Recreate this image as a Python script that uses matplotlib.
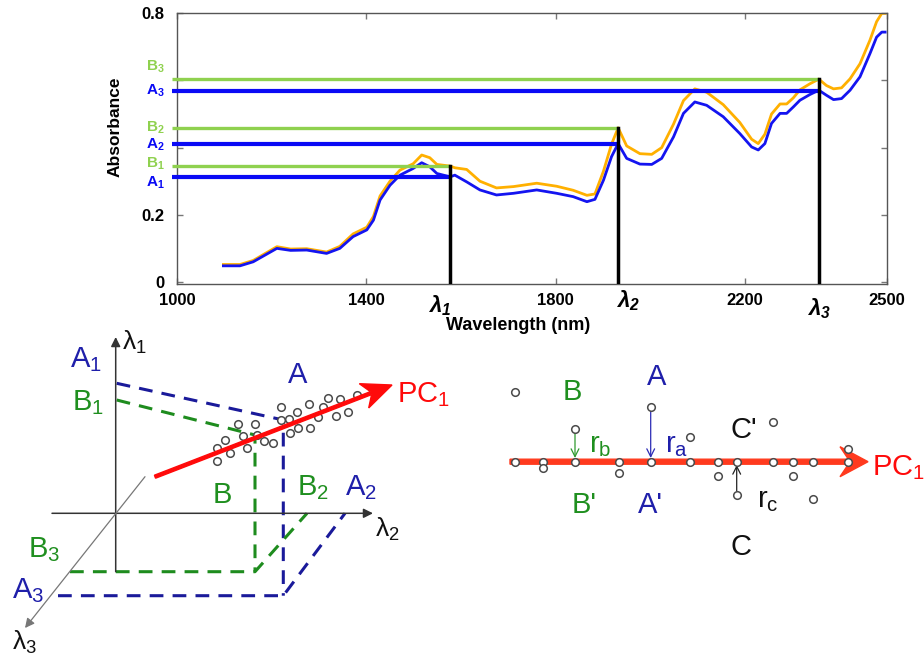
"""
NIR spectra with projections onto three wavelengths, and the PC1 sketch
(3-D projection and residual distances to the first principal component).
"""

import matplotlib.pyplot as plt
from matplotlib.patches import FancyArrow

plt.rcParams["font.family"] = ["Liberation Sans", "DejaVu Sans"]
plt.rcParams["mathtext.fontset"] = "custom"
plt.rcParams["mathtext.rm"] = "Liberation Sans"
plt.rcParams["mathtext.it"] = "Liberation Sans:italic"
plt.rcParams["mathtext.bf"] = "Liberation Sans:bold"
plt.rcParams["mathtext.bfit"] = "Liberation Sans:bold:italic"

# ---------------------------------------------------------------------------
# Data: spectra
# ---------------------------------------------------------------------------
WAVELENGTH = [1098, 1133, 1161, 1211, 1240, 1274, 1316, 1344, 1372, 1401,
              1415, 1429, 1450, 1471, 1499, 1517, 1534, 1549, 1577, 1587,
              1612, 1640, 1675, 1711, 1760, 1802, 1837, 1866, 1883, 1901,
              1918, 1932, 1950, 1978, 2003, 2024, 2049, 2070, 2094, 2119,
              2154, 2189, 2214, 2228, 2242, 2256, 2274, 2288, 2302, 2316,
              2337, 2356, 2372, 2387, 2404, 2422, 2443, 2464, 2478, 2489,
              2496]
ABS_A = [0.048, 0.048, 0.060, 0.100, 0.094, 0.095, 0.085, 0.100, 0.135, 0.155,
         0.184, 0.244, 0.288, 0.318, 0.338, 0.355, 0.343, 0.323, 0.313, 0.318,
         0.298, 0.274, 0.259, 0.264, 0.274, 0.264, 0.254, 0.239, 0.246, 0.303,
         0.373, 0.412, 0.368, 0.351, 0.350, 0.368, 0.432, 0.502, 0.536, 0.526,
         0.492, 0.442, 0.402, 0.393, 0.412, 0.472, 0.502, 0.502, 0.521, 0.541,
         0.558, 0.571, 0.556, 0.543, 0.546, 0.571, 0.611, 0.680, 0.729, 0.744,
         0.744]
ABS_B = [0.052, 0.052, 0.064, 0.105, 0.098, 0.099, 0.089, 0.106, 0.143, 0.163,
         0.195, 0.256, 0.300, 0.333, 0.352, 0.378, 0.370, 0.350, 0.345, 0.340,
         0.335, 0.300, 0.280, 0.284, 0.294, 0.285, 0.273, 0.258, 0.262, 0.330,
         0.410, 0.459, 0.405, 0.382, 0.380, 0.400, 0.470, 0.540, 0.575, 0.565,
         0.528, 0.475, 0.425, 0.412, 0.440, 0.500, 0.530, 0.530, 0.548, 0.572,
         0.590, 0.604, 0.585, 0.575, 0.578, 0.605, 0.650, 0.720, 0.775, 0.800,
         0.800]

LAMBDAS = [1577, 1932, 2356]
LEVEL_A = [0.313, 0.410, 0.569]
LEVEL_B = [0.346, 0.459, 0.604]
A_LABELS = [r"A$_\mathbf{1}$", r"A$_\mathbf{2}$", r"A$_\mathbf{3}$"]
B_LABELS = [r"B$_\mathbf{1}$", r"B$_\mathbf{2}$", r"B$_\mathbf{3}$"]
LAMBDA_LABELS = [r"λ$_\mathbfit{1}$", r"λ$_\mathbfit{2}$", r"λ$_\mathbfit{3}$"]

X_TICKS = [1000, 1400, 1800, 2200, 2500]
Y_TICKS = [0, 0.2, 0.4, 0.6, 0.8]
Y_TICK_LABELS = ["0", "0.2", "", "", "0.8"]

# ---------------------------------------------------------------------------
# Data: sketches (figure pixel coordinates, y downwards)
# ---------------------------------------------------------------------------
AXIS1_X, AXIS1_Y = [115.7, 115.7], [571.7, 337.0]
AXIS2_X, AXIS2_Y = [52.0, 373.0], [513.3, 513.3]
AXIS3_X, AXIS3_Y = [145.0, 25.0], [476.7, 628.0]

BLUE_PROJ_X, BLUE_PROJ_Y = [116.7, 283.3, 283.3], [383.3, 420.0, 595.7]
BLUE_BASE_X, BLUE_BASE_Y = [58.0, 283.3, 345.0], [595.7, 595.7, 513.3]
GREEN_PROJ_X, GREEN_PROJ_Y = [116.7, 255.0, 255.0], [400.0, 435.0, 571.7]
GREEN_BASE_X, GREEN_BASE_Y = [70.0, 255.0, 307.0], [571.7, 571.7, 513.3]

CLOUD_X = [216.7, 216.7, 225.0, 230.0, 238.3, 242.7, 247.3, 255.0, 256.7,
           264.0, 272.7, 280.7, 280.7, 289.3, 290.0, 297.3, 298.3, 309.3,
           310.0, 318.3, 322.7, 328.3, 336.0, 340.0, 348.3, 356.7]
CLOUD_Y = [448.3, 460.7, 440.0, 452.7, 424.0, 436.0, 448.3, 424.0, 435.0,
           440.7, 443.3, 407.3, 420.0, 419.3, 432.7, 412.3, 428.3, 404.0,
           428.3, 416.7, 407.3, 398.3, 416.0, 399.3, 411.7, 395.0]
PC1_3D_X, PC1_3D_Y = [155.0, 392.0], [476.7, 385.0]

PC1_LINE_X, PC1_LINE_Y = [510.0, 868.0], [461.7, 461.7]
ON_LINE_X = [515.0, 543.3, 575.0, 619.3, 650.7, 690.0, 717.7, 736.7, 773.3,
             793.3, 813.3, 848.3]
OFF_LINE_X = [515.0, 543.3, 575.0, 619.3, 650.7, 690.0, 717.7, 736.7, 773.3,
              793.3, 813.3, 848.3]
OFF_LINE_Y = [392.3, 468.3, 429.3, 472.7, 406.7, 437.3, 476.0, 495.0, 422.3,
              476.0, 499.3, 449.3]
# residual arrows: (x, y_from, y_to, colour)
RESIDUALS = [(575.0, 429.3, 458.0, "#2e9a2e"),
             (650.7, 406.7, 458.0, "#2b2bb5"),
             (736.7, 495.0, 465.0, "#222222")]

BLUE_TXT = "#1f1faa"
GREEN_TXT = "#1f8f1f"
RED = "#ff0a0a"

# (text, x, baseline y, colour)
SKETCH_LABELS = [
    (r"A$_1$", 70, 367, BLUE_TXT), (r"B$_1$", 72, 410, GREEN_TXT),
    ("A", 288, 383, BLUE_TXT), ("B", 213, 503, GREEN_TXT),
    (r"B$_2$", 297, 495, GREEN_TXT), (r"A$_2$", 345, 495, BLUE_TXT),
    (r"B$_3$", 28, 557, GREEN_TXT), (r"A$_3$", 12, 598, BLUE_TXT),
    (r"PC$_1$", 397, 402, RED),
    ("B", 563, 400, GREEN_TXT), ("A", 647, 385, BLUE_TXT),
    ("C'", 730, 438, "#111111"), (r"r$_\mathrm{b}$", 589, 452, GREEN_TXT),
    (r"r$_\mathrm{a}$", 665, 452, BLUE_TXT), ("B'", 572, 513, GREEN_TXT),
    ("A'", 638, 513, BLUE_TXT), (r"r$_\mathrm{c}$", 757, 507, "#111111"),
    ("C", 730, 555, "#111111"), (r"PC$_1$", 872, 475, RED),
]
AXIS_LABELS = [(r"λ$_1$", 122, 350), (r"λ$_2$", 375, 537), (r"λ$_3$", 12, 650)]


def main() -> None:
    fig = plt.figure(figsize=(9.24, 6.59), dpi=100)

    # ------------------------------------------------------------------
    # 1. Spectra panel
    # ------------------------------------------------------------------
    ax = fig.add_axes([177 / 924, 1 - 284.3 / 659, 710 / 924, 271 / 659])
    ymin = -0.007
    ax.set_xlim(1000, 2500)
    ax.set_ylim(ymin, 0.8)

    ax.plot(WAVELENGTH, ABS_B, color="#ffb000", lw=2.0, zorder=2)
    ax.plot(WAVELENGTH, ABS_A, color="#1414f0", lw=2.0, zorder=3)

    for lam, a, b in zip(LAMBDAS, LEVEL_A, LEVEL_B):
        ax.plot([990, lam], [b, b], color="#8fd14f", lw=2.4, clip_on=False,
                solid_capstyle="butt", zorder=4)
        ax.plot([990, lam], [a, a], color="#0a0af5", lw=3.0, clip_on=False,
                solid_capstyle="butt", zorder=4)
        ax.plot([lam, lam], [ymin, b], color="black", lw=2.5, zorder=5)

    # A/B labels next to the y axis
    b_offsets = [-2, -4, 9]
    a_offsets = [-10, -4, -4]
    for i in range(3):
        ax.annotate(B_LABELS[i], xy=(-0.017, LEVEL_B[i]),
                    xycoords=("axes fraction", "data"),
                    xytext=(0, b_offsets[i]), textcoords="offset pixels",
                    ha="right", va="baseline", color="#8fd14f",
                    fontsize=11, fontweight="bold", annotation_clip=False)
        ax.annotate(A_LABELS[i], xy=(-0.017, LEVEL_A[i]),
                    xycoords=("axes fraction", "data"),
                    xytext=(0, a_offsets[i]), textcoords="offset pixels",
                    ha="right", va="baseline", color="#0a0af5",
                    fontsize=11, fontweight="bold", annotation_clip=False)

    # lambda markers under the axis
    lam_dx = [-22, -2, -12]
    lam_dy = [-28, -23, -31]
    for lam, lab, dx, dy in zip(LAMBDAS, LAMBDA_LABELS, lam_dx, lam_dy):
        ax.annotate(lab, xy=(lam, ymin), xytext=(dx, dy),
                    textcoords="offset pixels", ha="left", va="baseline",
                    fontsize=16, fontweight="bold", fontstyle="italic",
                    annotation_clip=False)

    ax.set_xticks(X_TICKS)
    ax.set_yticks(Y_TICKS)
    ax.set_yticklabels(Y_TICK_LABELS)
    ax.tick_params(direction="in", length=4, width=1, color="#777777",
                   top=True, right=True, labelsize=12)
    ax.tick_params(axis="x", pad=6)
    ax.tick_params(axis="y", pad=9)
    for lab in ax.get_xticklabels() + ax.get_yticklabels():
        lab.set_fontweight("bold")
    for sp in ax.spines.values():
        sp.set_color("#555555")
        sp.set_linewidth(1.0)

    # ------------------------------------------------------------------
    # 2. Sketch layer (pixel coordinates)
    # ------------------------------------------------------------------
    sk = fig.add_axes([0, 0, 1, 1])
    sk.set_xlim(0, 924)
    sk.set_ylim(659, 0)
    sk.axis("off")

    sk.text(518, 325, "Wavelength (nm)", ha="center", va="center",
            fontsize=13, fontweight="bold")
    sk.text(115, 127, "Absorbance", ha="center", va="center", rotation=90,
            fontsize=12.5, fontweight="bold")

    # coordinate axes of the 3-D sketch
    for xs, ys, col, lw in [(AXIS1_X, AXIS1_Y, "#333333", 1.1),
                            (AXIS2_X, AXIS2_Y, "#333333", 1.1),
                            (AXIS3_X, AXIS3_Y, "#777777", 0.9)]:
        sk.annotate("", xy=(xs[1], ys[1]), xytext=(xs[0], ys[0]),
                    arrowprops=dict(arrowstyle="-|>", color=col, lw=lw,
                                    mutation_scale=14, shrinkA=0, shrinkB=0))

    dash = dict(lw=2.2, dashes=(4.5, 3.0))
    sk.plot(BLUE_PROJ_X, BLUE_PROJ_Y, color="#1a1a9a", **dash)
    sk.plot(BLUE_BASE_X, BLUE_BASE_Y, color="#1a1a9a", **dash)
    sk.plot(GREEN_PROJ_X, GREEN_PROJ_Y, color="#1e8c1e", **dash)
    sk.plot(GREEN_BASE_X, GREEN_BASE_Y, color="#1e8c1e", **dash)

    sk.scatter(CLOUD_X, CLOUD_Y, s=30, facecolor="white", edgecolor="#4a4a4a",
               linewidth=1.1, zorder=4)
    sk.add_patch(FancyArrow(PC1_3D_X[0], PC1_3D_Y[0],
                            PC1_3D_X[1] - PC1_3D_X[0],
                            PC1_3D_Y[1] - PC1_3D_Y[0],
                            width=3.2, head_width=26, head_length=30,
                            overhang=0.25, length_includes_head=True,
                            color=RED, zorder=5))

    # PC1 residual sketch
    sk.add_patch(FancyArrow(PC1_LINE_X[0], PC1_LINE_Y[0],
                            PC1_LINE_X[1] - PC1_LINE_X[0], 0,
                            width=5, head_width=30, head_length=28,
                            overhang=0.3, length_includes_head=True,
                            color="#ff3a1e", zorder=3))
    for x, y0, y1, col in RESIDUALS:
        sk.annotate("", xy=(x, y1), xytext=(x, y0),
                    arrowprops=dict(arrowstyle="->", color=col, lw=0.9,
                                    mutation_scale=14, shrinkA=3, shrinkB=0),
                    zorder=4)
    sk.scatter(ON_LINE_X, [PC1_LINE_Y[0]] * len(ON_LINE_X), s=30,
               facecolor="white", edgecolor="#4a4a4a", linewidth=1.1, zorder=6)
    sk.scatter(OFF_LINE_X, OFF_LINE_Y, s=30, facecolor="white",
               edgecolor="#4a4a4a", linewidth=1.1, zorder=6)

    for txt, x, y, col in SKETCH_LABELS:
        sk.text(x, y, txt, color=col, fontsize=21, ha="left", va="baseline")
    for txt, x, y in AXIS_LABELS:
        sk.text(x, y, txt, color="#111111", fontsize=19, ha="left",
                va="baseline")

    fig.savefig("out.png", dpi=100)


if __name__ == "__main__":
    main()
